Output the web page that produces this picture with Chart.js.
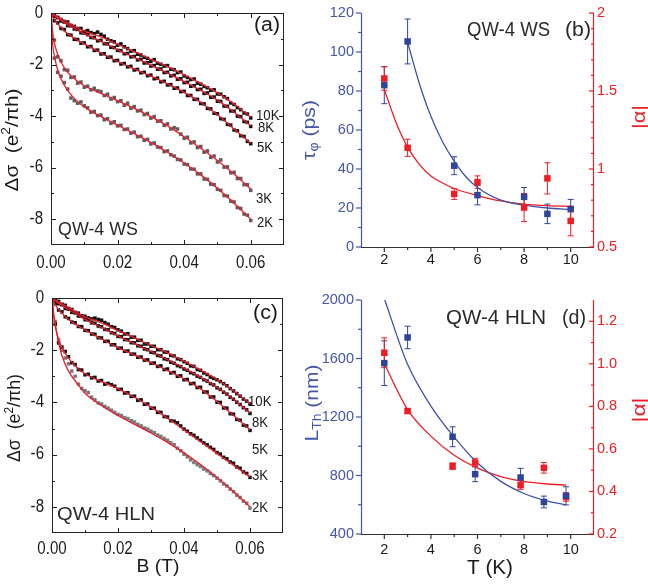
<!DOCTYPE html>
<html>
<head>
<meta charset="utf-8">
<script src="https://cdn.jsdelivr.net/npm/chart.js@4.4.1/dist/chart.umd.min.js"></script>
<style>
html, body { margin: 0; padding: 0; background: #fff; }
#fig { position: relative; width: 648px; height: 585px; overflow: hidden; }
canvas { position: absolute; }
</style>
</head>
<body>
<div id="fig">
  <canvas id="pa" width="296" height="285" style="left:0;top:0"></canvas>
  <canvas id="pb" width="352" height="285" style="left:296px;top:0"></canvas>
  <canvas id="pc" width="296" height="300" style="left:0;top:285px"></canvas>
  <canvas id="pd" width="352" height="300" style="left:296px;top:285px"></canvas>
</div>
<script>
// === DATA: magnetoconductance (a), (c) ===
const fieldB = [0,0.001,0.002,0.003,0.004,0.005,0.006,0.007,0.008,0.009,
  0.010,0.011,0.012,0.013,0.014,0.015,0.016,0.017,0.018,0.019,
  0.020,0.021,0.022,0.023,0.024,0.025,0.026,0.027,0.028,0.029,
  0.030,0.031,0.032,0.033,0.034,0.035,0.036,0.037,0.038,0.039,
  0.040,0.041,0.042,0.043,0.044,0.045,0.046,0.047,0.048,0.049,
  0.050,0.051,0.052,0.053,0.054,0.055,0.056,0.057,0.058,0.059,0.060];

const wsData10K = [0.02,-0.04,-0.18,-0.25,-0.33,-0.35,-0.48,-0.52,-0.6,-0.6,-0.72,-0.68,-0.76,-0.8,-0.74,-0.83,-0.9,-1.02,-1.08,-1.12,-1.25,-1.2,-1.31,-1.38,-1.48,-1.46,-1.6,-1.63,-1.72,-1.76,-1.88,-1.81,-1.95,-1.99,-2.06,-2.04,-2.18,-2.2,-2.31,-2.29,-2.44,-2.5,-2.58,-2.56,-2.72,-2.76,-2.85,-2.9,-3.0,-2.98,-3.14,-3.15,-3.25,-3.32,-3.49,-3.55,-3.67,-3.75,-3.88,-3.92,-4.07];
const wsData8K = [0,-0.13,-0.17,-0.31,-0.35,-0.49,-0.5,-0.62,-0.64,-0.77,-0.78,-0.84,-0.95,-0.96,-1.08,-1.06,-1.19,-1.2,-1.33,-1.34,-1.45,-1.46,-1.58,-1.57,-1.7,-1.69,-1.82,-1.8,-1.94,-1.93,-2.06,-2.04,-2.18,-2.17,-2.31,-2.3,-2.44,-2.42,-2.57,-2.55,-2.7,-2.69,-2.84,-2.82,-2.97,-2.96,-3.12,-3.1,-3.27,-3.26,-3.42,-3.43,-3.61,-3.62,-3.8,-3.81,-4.0,-4.02,-4.21,-4.24,-4.4];
const wsData5K = [0,-0.3,-0.38,-0.6,-0.64,-0.84,-0.86,-1.02,-1.03,-1.17,-1.16,-1.31,-1.3,-1.45,-1.44,-1.59,-1.58,-1.72,-1.71,-1.85,-1.84,-1.98,-1.96,-2.09,-2.07,-2.21,-2.19,-2.32,-2.3,-2.43,-2.41,-2.55,-2.53,-2.67,-2.65,-2.79,-2.78,-2.92,-2.91,-3.05,-3.04,-3.2,-3.2,-3.35,-3.35,-3.51,-3.53,-3.7,-3.72,-3.89,-3.91,-4.1,-4.13,-4.32,-4.35,-4.54,-4.57,-4.76,-4.79,-4.98,-5.07];
const wsData3K = [0,-1.05,-1.7,-1.85,-2.2,-2.22,-2.5,-2.48,-2.72,-2.68,-2.88,-2.84,-2.98,-2.92,-3.02,-3.05,-3.2,-3.15,-3.34,-3.28,-3.44,-3.4,-3.58,-3.5,-3.7,-3.63,-3.8,-3.77,-3.94,-3.9,-4.08,-4.02,-4.2,-4.18,-4.36,-4.3,-4.5,-4.45,-4.5,-4.7,-4.86,-4.82,-5.04,-5.0,-5.22,-5.18,-5.4,-5.35,-5.6,-5.55,-5.78,-5.7,-5.98,-5.97,-6.2,-6.18,-6.42,-6.42,-6.66,-6.66,-6.88];
const wsData2K = [0,-1.75,-2.3,-2.45,-2.7,-2.95,-3.3,-3.4,-3.5,-3.45,-3.6,-3.68,-3.85,-3.82,-3.98,-3.96,-4.14,-4.1,-4.28,-4.22,-4.38,-4.36,-4.52,-4.5,-4.66,-4.62,-4.8,-4.78,-4.94,-4.9,-5.08,-5.04,-5.2,-5.22,-5.38,-5.35,-5.5,-5.55,-5.68,-5.7,-5.86,-5.88,-6.05,-6.06,-6.24,-6.24,-6.44,-6.45,-6.64,-6.66,-6.84,-6.88,-7.08,-7.1,-7.3,-7.33,-7.55,-7.58,-7.8,-7.84,-8.05];

const hlnData10K = [0,-0.08,-0.13,-0.24,-0.28,-0.4,-0.44,-0.55,-0.58,-0.68,-0.7,-0.76,-0.8,-0.77,-0.82,-0.85,-0.94,-1.0,-1.1,-1.13,-1.22,-1.27,-1.38,-1.37,-1.5,-1.5,-1.62,-1.62,-1.76,-1.76,-1.85,-1.85,-1.98,-1.98,-2.07,-2.08,-2.2,-2.22,-2.33,-2.36,-2.44,-2.5,-2.6,-2.62,-2.74,-2.77,-2.87,-2.93,-3.03,-3.08,-3.13,-3.2,-3.28,-3.36,-3.47,-3.56,-3.66,-3.76,-3.87,-3.95,-4.06];
const hlnData8K = [0,-0.09,-0.22,-0.26,-0.4,-0.43,-0.55,-0.57,-0.69,-0.7,-0.83,-0.84,-0.95,-0.97,-1.07,-1.1,-1.2,-1.22,-1.33,-1.36,-1.47,-1.48,-1.59,-1.6,-1.71,-1.72,-1.83,-1.85,-1.95,-1.98,-2.08,-2.1,-2.2,-2.22,-2.33,-2.36,-2.46,-2.5,-2.59,-2.63,-2.72,-2.77,-2.86,-2.9,-2.99,-3.04,-3.13,-3.18,-3.28,-3.33,-3.44,-3.5,-3.61,-3.68,-3.8,-3.88,-3.99,-4.08,-4.2,-4.28,-4.42];
const hlnData5K = [0,-0.22,-0.46,-0.53,-0.72,-0.78,-0.92,-0.95,-1.09,-1.1,-1.24,-1.25,-1.38,-1.39,-1.52,-1.53,-1.66,-1.66,-1.79,-1.79,-1.92,-1.92,-2.04,-2.03,-2.15,-2.15,-2.27,-2.26,-2.38,-2.37,-2.5,-2.49,-2.62,-2.6,-2.74,-2.72,-2.87,-2.85,-3.0,-2.98,-3.13,-3.12,-3.28,-3.27,-3.43,-3.42,-3.6,-3.6,-3.79,-3.79,-3.99,-4.0,-4.21,-4.22,-4.43,-4.45,-4.65,-4.68,-4.87,-4.9,-5.07];
const hlnData3K = [0,-1.0,-1.72,-1.88,-2.05,-2.25,-2.48,-2.55,-2.74,-2.76,-2.94,-2.92,-3.06,-3.04,-3.18,-3.16,-3.3,-3.27,-3.32,-3.38,-3.5,-3.5,-3.64,-3.63,-3.77,-3.76,-3.92,-3.9,-4.07,-4.06,-4.22,-4.22,-4.38,-4.38,-4.54,-4.56,-4.7,-4.72,-4.78,-4.9,-5.02,-5.1,-5.2,-5.26,-5.36,-5.45,-5.55,-5.62,-5.72,-5.8,-5.92,-5.98,-6.1,-6.16,-6.28,-6.33,-6.47,-6.52,-6.66,-6.72,-6.87];
const hlnData2K = [0,-0.9,-1.6,-2.0,-2.3,-2.52,-2.8,-3.0,-3.3,-3.46,-3.55,-3.62,-3.8,-3.9,-4.02,-4.06,-4.15,-4.22,-4.3,-4.38,-4.46,-4.5,-4.58,-4.62,-4.7,-4.75,-4.84,-4.9,-4.98,-5.02,-5.1,-5.16,-5.25,-5.3,-5.38,-5.45,-5.55,-5.62,-5.75,-5.85,-5.98,-6.08,-6.2,-6.3,-6.38,-6.45,-6.55,-6.62,-6.72,-6.8,-6.9,-7.0,-7.12,-7.2,-7.32,-7.42,-7.55,-7.64,-7.78,-7.86,-8.05];

// fitted curves (red)
const fitB = [0,0.0005,0.001,0.002,0.003,0.005,0.0075,0.01,0.015,0.02,0.025,0.03,0.035,0.04,0.045,0.05,0.055,0.06];
const wsFit10K = [0,-0.03,-0.07,-0.15,-0.22,-0.37,-0.55,-0.7,-0.93,-1.22,-1.5,-1.8,-2.08,-2.4,-2.74,-3.1,-3.53,-4.05];
const wsFit8K = [0,-0.06,-0.11,-0.2,-0.28,-0.45,-0.63,-0.8,-1.1,-1.42,-1.72,-2.02,-2.33,-2.66,-3.0,-3.38,-3.85,-4.38];
const wsFit5K = [0,-0.15,-0.25,-0.42,-0.56,-0.8,-1.02,-1.2,-1.55,-1.88,-2.17,-2.45,-2.75,-3.08,-3.47,-3.95,-4.5,-5.05];
const wsFit3K = [0,-0.75,-1.15,-1.6,-1.9,-2.3,-2.6,-2.82,-3.12,-3.4,-3.7,-4.02,-4.38,-4.8,-5.25,-5.72,-6.25,-6.83];
const wsFit2K = [0,-1.2,-1.65,-2.2,-2.55,-3.0,-3.38,-3.65,-4.02,-4.35,-4.68,-5.02,-5.4,-5.82,-6.28,-6.8,-7.38,-8.0];
const hlnFit10K = [0,-0.03,-0.07,-0.15,-0.22,-0.37,-0.55,-0.72,-0.95,-1.25,-1.53,-1.82,-2.1,-2.42,-2.76,-3.12,-3.55,-4.05];
const hlnFit8K = [0,-0.06,-0.11,-0.2,-0.28,-0.45,-0.63,-0.82,-1.12,-1.45,-1.75,-2.05,-2.36,-2.69,-3.03,-3.42,-3.88,-4.4];
const hlnFit5K = [0,-0.15,-0.26,-0.44,-0.58,-0.82,-1.04,-1.22,-1.57,-1.9,-2.19,-2.48,-2.78,-3.1,-3.48,-3.96,-4.5,-5.05];
const hlnFit3K = [0,-0.7,-1.1,-1.6,-1.9,-2.3,-2.65,-2.9,-3.2,-3.47,-3.8,-4.18,-4.6,-5.05,-5.5,-5.95,-6.4,-6.85];
const hlnFit2K = [0,-0.6,-1.0,-1.7,-2.2,-2.8,-3.25,-3.65,-4.12,-4.5,-4.84,-5.17,-5.53,-5.93,-6.38,-6.87,-7.41,-8.0];

const tempLabels = ['10K','8K','5K','3K','2K'];

// === DATA: (b) tau_phi and alpha vs T (WS) ===
const wsT = [2,3,5,6,8,9,10];
const wsTau = [83,105.4,41.7,26.6,25.7,17,19.4];
const wsTauErr = [9.5,11.5,4.6,5,4.8,5,5];
const wsAlpha = [1.58,1.136,0.84,0.916,0.753,0.94,0.667];
const wsAlphaErr = [0.075,0.055,0.035,0.04,0.09,0.1,0.095];
const wsTauFitT = [3,3.5,4,4.5,5,5.5,6,7,8,9,10];
const wsTauFit = [105,84,67,54,44,36,30.5,24,21.5,20,19.2];
const wsAlphaFitT = [2,2.5,3,3.5,4,4.5,5,6,7,8,9,10];
const wsAlphaFit = [1.51,1.3,1.14,1.03,0.955,0.91,0.875,0.83,0.795,0.775,0.765,0.76];

// === DATA: (d) L_Th and alpha vs T (HLN) ===
const hlnT = [2,3,4.93,5.9,7.85,8.85,9.8];
const hlnL = [1568,1744,1065,809,786,619,661];
const hlnLErr = [153,77,68,51,63,40,62];
const hlnAlpha = [1.052,0.778,0.519,0.536,0.43,0.511,0.374];
const hlnAlphaErr = [0.07,0.01,0.015,0.02,0.02,0.025,0.02];
const hlnFitT = [2,3,4,5,6,7,8,9,9.8];
const hlnLFit = [2010,1560,1275,1062,885,760,677,625,600];
const hlnAlphaFit = [1.0,0.785,0.66,0.57,0.51,0.47,0.447,0.435,0.43];

// === TICKS ===
const bTicks = [0,0.02,0.04,0.06], bTickLabels = ['0.00','0.02','0.04','0.06'], bMinor = [0.01,0.03,0.05];
const dsTicks = [0,-2,-4,-6,-8], dsTickLabels = ['0','-2','-4','-6','-8'], dsMinor = [-1,-3,-5,-7];
const tTicks = [2,4,6,8,10], tTickLabels = ['2','4','6','8','10'], tMinor = [3,5,7,9];
const tauTicks = [0,20,40,60,80,100,120], tauMinor = [10,30,50,70,90,110];
const wsAlphaTicks = [0.5,1,1.5,2], wsAlphaLabels = ['0.5','1','1.5','2'];
const wsAlphaMinor = [0.6,0.7,0.8,0.9,1.1,1.2,1.3,1.4,1.6,1.7,1.8,1.9];
const lTicks = [400,800,1200,1600,2000], lMinor = [600,1000,1400,1800];
const hlnAlphaTicks = [0.2,0.4,0.6,0.8,1.0,1.2], hlnAlphaLabels = ['0.2','0.4','0.6','0.8','1.0','1.2'];
const hlnAlphaMinor = [0.3,0.5,0.7,0.9,1.1];

// === STYLE ===
const FONT = '"Liberation Sans", Arial, Helvetica, sans-serif';
const BLUE = '#4456a8', BLUE_PT = '#30449c', RED = '#ee1d25', FITRED = '#e8202a';
const BLACK = '#111111', GRAY_A = '#5e5e5e', GRAY_C = '#7a7a7a';

// text helper: parts = [[str, size, dy], ...]
function txt(ctx, parts, x, y, o) {
  o = o || {};
  if (typeof parts === 'string') parts = [[parts]];
  ctx.save();
  ctx.translate(x, y);
  if (o.rot) ctx.rotate(o.rot);
  let w = 0;
  parts.forEach(p => { ctx.font = (p[1] || o.size) + 'px ' + FONT; w += ctx.measureText(p[0]).width; });
  const sx = o.w ? o.w / w : (o.sx || 1);
  ctx.scale(sx, 1);
  let cx = o.align === 'left' ? 0 : o.align === 'right' ? -w : -w / 2;
  ctx.fillStyle = o.color || '#1a1a1a';
  ctx.textBaseline = 'middle';
  ctx.textAlign = 'left';
  parts.forEach(p => {
    ctx.font = (p[1] || o.size) + 'px ' + FONT;
    ctx.fillText(p[0], cx, p[2] || 0);
    cx += ctx.measureText(p[0]).width;
  });
  ctx.restore();
}

function seg(ctx, x1, y1, x2, y2) { ctx.beginPath(); ctx.moveTo(x1, y1); ctx.lineTo(x2, y2); ctx.stroke(); }

const pts = (xs, ys) => xs.map((v, i) => ({ x: v, y: ys[i] }));
const dots = (xs, ys, color, r, axis, order) => ({
  data: pts(xs, ys), pointStyle: 'rect', pointRadius: r, pointHoverRadius: r,
  pointBorderWidth: 0, backgroundColor: color, borderColor: color,
  yAxisID: axis || 'y', order: order
});
const fitLine = (xs, ys, color, axis, order) => ({
  data: pts(xs, ys), showLine: true, pointRadius: 0, borderColor: color, borderWidth: 1.3,
  cubicInterpolationMode: 'monotone', yAxisID: axis || 'y', order: order
});
const hiddenAxis = (pos, min, max, size) => ({
  type: 'linear', position: pos, min: min, max: max,
  grid: { display: false }, border: { display: false }, ticks: { display: false },
  afterFit: s => { if (pos === 'bottom') s.height = size; else s.width = size; }
});

// === boxed panels (a), (c) ===
function boxDecor(cfg) {
  return {
    id: 'boxDecor',
    afterDatasetsDraw(chart) {
      const { ctx, chartArea: a, scales: { x, y } } = chart;
      ctx.save();
      ctx.strokeStyle = '#222'; ctx.lineWidth = 1;
      ctx.strokeRect(a.left + 0.5, a.top + 0.5, a.right - a.left - 1, a.bottom - a.top - 1);
      const xt = (vals, len) => vals.forEach(v => {
        const px = Math.round(x.getPixelForValue(v)) + 0.5;
        seg(ctx, px, a.bottom, px, a.bottom - len); seg(ctx, px, a.top, px, a.top + len);
      });
      const yt = (vals, len) => vals.forEach(v => {
        const py = Math.round(y.getPixelForValue(v)) + 0.5;
        seg(ctx, a.left, py, a.left + len, py); seg(ctx, a.right, py, a.right - len, py);
      });
      xt(bTicks, 5); xt(bMinor, 3); yt(dsTicks, 5); yt(dsMinor, 3);
      bTicks.forEach((v, i) => txt(ctx, bTickLabels[i], x.getPixelForValue(v), a.bottom + cfg.xLab, { size: 17.5, sx: 0.86 }));
      dsTicks.forEach((v, i) => txt(ctx, dsTickLabels[i], a.left - 8, y.getPixelForValue(v), { size: 17.5, sx: 0.86, align: 'right' }));
      cfg.texts.forEach(t => txt(ctx, t[0], t[1], t[2], t[3]));
      ctx.restore();
    }
  };
}

function boxChart(id, series, fits, grays, cfg) {
  const ds = [];
  fits.forEach(f => ds.push(fitLine(fitB, f, FITRED, 'y', 0)));
  series.forEach((s, i) => ds.push(dots(fieldB, s, grays[i], 2.5, 'y', 1)));
  new Chart(document.getElementById(id), {
    type: 'scatter',
    data: { datasets: ds },
    options: {
      responsive: false, animation: false, events: [],
      layout: { padding: cfg.pad },
      plugins: { legend: { display: false }, tooltip: { enabled: false } },
      scales: { x: hiddenAxis('bottom', 0, 0.07, cfg.xh), y: hiddenAxis('left', -9, 0, cfg.yw) }
    },
    plugins: [boxDecor(cfg)]
  });
}

const dsTitle = [['Δσ  (e', 18], ['2', 12, -6], ['/πh)', 18]];

boxChart('pa',
  [wsData10K, wsData8K, wsData5K, wsData3K, wsData2K],
  [wsFit10K, wsFit8K, wsFit5K, wsFit3K, wsFit2K],
  [BLACK, BLACK, BLACK, GRAY_A, GRAY_A],
  { pad: { top: 13, right: 12, left: 0, bottom: 0 }, xh: 40, yw: 51, xLab: 18,
    texts: [
      ['(a)', 280, 25, { size: 20, w: 26, align: 'right' }],
      ['QW-4 WS', 58, 230, { size: 19, w: 80, align: 'left', color: '#2a2a2a' }],
      [tempLabels[0], 256, 116, { size: 15.5, sx: 0.85, align: 'left' }],
      [tempLabels[1], 258, 128, { size: 15.5, sx: 0.85, align: 'left' }],
      [tempLabels[2], 257, 148, { size: 15.5, sx: 0.85, align: 'left' }],
      [tempLabels[3], 256, 199, { size: 15.5, sx: 0.85, align: 'left' }],
      [tempLabels[4], 257, 223, { size: 15.5, sx: 0.85, align: 'left' }],
      [dsTitle, 13, 140, { rot: -Math.PI / 2, w: 103 }]
    ] });

boxChart('pc',
  [hlnData10K, hlnData8K, hlnData5K, hlnData3K, hlnData2K],
  [hlnFit10K, hlnFit8K, hlnFit5K, hlnFit3K, hlnFit2K],
  [BLACK, BLACK, BLACK, BLACK, GRAY_C],
  { pad: { top: 13, right: 13, left: 0, bottom: 0 }, xh: 52, yw: 52, xLab: 16,
    texts: [
      ['(c)', 278, 28, { size: 20, w: 25, align: 'right' }],
      ['QW-4 HLN', 57, 230, { size: 19, w: 98, align: 'left', color: '#2a2a2a' }],
      [tempLabels[0], 248, 117, { size: 15.5, sx: 0.85, align: 'left' }],
      [tempLabels[1], 252, 138, { size: 15.5, sx: 0.85, align: 'left' }],
      [tempLabels[2], 252, 165, { size: 15.5, sx: 0.85, align: 'left' }],
      [tempLabels[3], 252, 191, { size: 15.5, sx: 0.85, align: 'left' }],
      [tempLabels[4], 252, 223, { size: 15.5, sx: 0.85, align: 'left' }],
      [dsTitle, 15.5, 133, { rot: -Math.PI / 2, w: 88 }],
      ['B (T)', 158, 282, { size: 19, w: 43 }]
    ] });

// === dual axis panels (b), (d) ===
function dualDecor(cfg) {
  return {
    id: 'dualDecor',
    beforeDatasetsDraw(chart) {
      const { ctx, scales } = chart;
      ctx.save(); ctx.lineWidth = 1;
      cfg.errs.forEach(e => {
        const ys = scales[e.axis];
        ctx.strokeStyle = e.color;
        e.xs.forEach((t, i) => {
          const px = scales.x.getPixelForValue(t);
          const top = ys.getPixelForValue(e.ys[i] + e.err[i]);
          const bot = ys.getPixelForValue(e.ys[i] - e.err[i]);
          seg(ctx, px, top, px, bot);
          seg(ctx, px - 3, top, px + 3, top);
          seg(ctx, px - 3, bot, px + 3, bot);
        });
      });
      ctx.restore();
    },
    afterDatasetsDraw(chart) {
      const { ctx, chartArea: a, scales: { x, y, y1 } } = chart;
      ctx.save(); ctx.lineWidth = 1.2;
      // bottom axis
      ctx.strokeStyle = '#333';
      seg(ctx, a.left, a.bottom + 0.5, a.right, a.bottom + 0.5);
      tTicks.forEach(v => { const px = x.getPixelForValue(v); seg(ctx, px, a.bottom, px, a.bottom + 5); });
      tMinor.forEach(v => { const px = x.getPixelForValue(v); seg(ctx, px, a.bottom, px, a.bottom + 3); });
      // left axis
      ctx.strokeStyle = BLUE;
      seg(ctx, a.left + 0.5, a.top, a.left + 0.5, a.bottom);
      cfg.lt.forEach(v => { const py = y.getPixelForValue(v); seg(ctx, a.left, py, a.left - 5, py); });
      cfg.lm.forEach(v => { const py = y.getPixelForValue(v); seg(ctx, a.left, py, a.left - 3, py); });
      // right axis
      ctx.strokeStyle = RED;
      seg(ctx, a.right - 0.5, a.top, a.right - 0.5, a.bottom);
      cfg.rt.forEach(v => { const py = y1.getPixelForValue(v); seg(ctx, a.right, py, a.right - 5, py); });
      cfg.rm.forEach(v => { const py = y1.getPixelForValue(v); seg(ctx, a.right, py, a.right - 3, py); });
      // tick labels
      tTicks.forEach((v, i) => txt(ctx, tTickLabels[i], x.getPixelForValue(v), a.bottom + cfg.xLab, { size: 14.5 }));
      cfg.lt.forEach(v => txt(ctx, String(v), a.left - 7, y.getPixelForValue(v), { size: 14.5, align: 'right', color: BLUE }));
      cfg.rt.forEach((v, i) => txt(ctx, cfg.rl[i], a.right + 3, y1.getPixelForValue(v), { size: 14.5, align: 'left', color: RED }));
      cfg.texts.forEach(t => txt(ctx, t[0], t[1], t[2], t[3]));
      ctx.restore();
    }
  };
}

function dualChart(id, ds, cfg) {
  new Chart(document.getElementById(id), {
    type: 'scatter',
    data: { datasets: ds },
    options: {
      responsive: false, animation: false, events: [],
      layout: { padding: { top: cfg.top, right: 0, left: 0, bottom: 0 } },
      plugins: { legend: { display: false }, tooltip: { enabled: false } },
      scales: {
        x: hiddenAxis('bottom', 1, 11, cfg.xh),
        y: hiddenAxis('left', cfg.ly[0], cfg.ly[1], 65),
        y1: hiddenAxis('right', cfg.ry[0], cfg.ry[1], 54)
      }
    },
    plugins: [dualDecor(cfg)]
  });
}

dualChart('pb', [
    dots(wsT, wsTau, BLUE_PT, 4.6, 'y', 0),
    dots(wsT, wsAlpha, RED, 4.6, 'y1', 0),
    fitLine(wsTauFitT, wsTauFit, '#3d51a8', 'y', 1),
    fitLine(wsAlphaFitT, wsAlphaFit, RED, 'y1', 1)
  ], {
    top: 13, xh: 38, xLab: 13, ly: [0, 120], ry: [0.5, 2],
    lt: tauTicks, lm: tauMinor, rt: wsAlphaTicks, rl: wsAlphaLabels, rm: wsAlphaMinor,
    errs: [
      { axis: 'y', xs: wsT, ys: wsTau, err: wsTauErr, color: BLUE_PT },
      { axis: 'y1', xs: wsT, ys: wsAlpha, err: wsAlphaErr, color: RED }
    ],
    texts: [
      ['QW-4 WS', 171, 30, { size: 20, w: 83, align: 'left', color: '#2a2a2a' }],
      ['(b)', 269, 30, { size: 20, w: 26, align: 'left', color: '#2a2a2a' }],
      [[['τ', 18], ['φ', 12, 5], [' (ps)', 18]], 14, 130, { rot: -Math.PI / 2, w: 60, color: BLUE }],
      ['|α|', 344, 117, { size: 19, w: 24, rot: -Math.PI / 2, color: RED }]
    ]
  });

dualChart('pd', [
    dots(hlnT, hlnL, BLUE_PT, 4.6, 'y', 0),
    dots(hlnT, hlnAlpha, RED, 4.6, 'y1', 0),
    fitLine(hlnFitT, hlnLFit, '#3d51a8', 'y', 1),
    fitLine(hlnFitT, hlnAlphaFit, RED, 'y1', 1)
  ], {
    top: 15, xh: 51, xLab: 16, ly: [400, 2000], ry: [0.2, 1.3],
    lt: lTicks, lm: lMinor, rt: hlnAlphaTicks, rl: hlnAlphaLabels, rm: hlnAlphaMinor,
    errs: [
      { axis: 'y', xs: hlnT, ys: hlnL, err: hlnLErr, color: BLUE_PT },
      { axis: 'y1', xs: hlnT, ys: hlnAlpha, err: hlnAlphaErr, color: RED }
    ],
    texts: [
      ['QW-4 HLN', 150, 33, { size: 20, w: 100, align: 'left', color: '#2a2a2a' }],
      ['(d)', 266, 33, { size: 20, w: 24, align: 'left', color: '#2a2a2a' }],
      [[['L', 18], ['Th', 12, 5], [' (nm)', 18]], 17, 118, { rot: -Math.PI / 2, w: 77, color: BLUE }],
      ['|α|', 344, 125, { size: 19, w: 25, rot: -Math.PI / 2, color: RED }],
      ['T (K)', 194, 283, { size: 20, w: 46 }]
    ]
  });
</script>
</body>
</html>
